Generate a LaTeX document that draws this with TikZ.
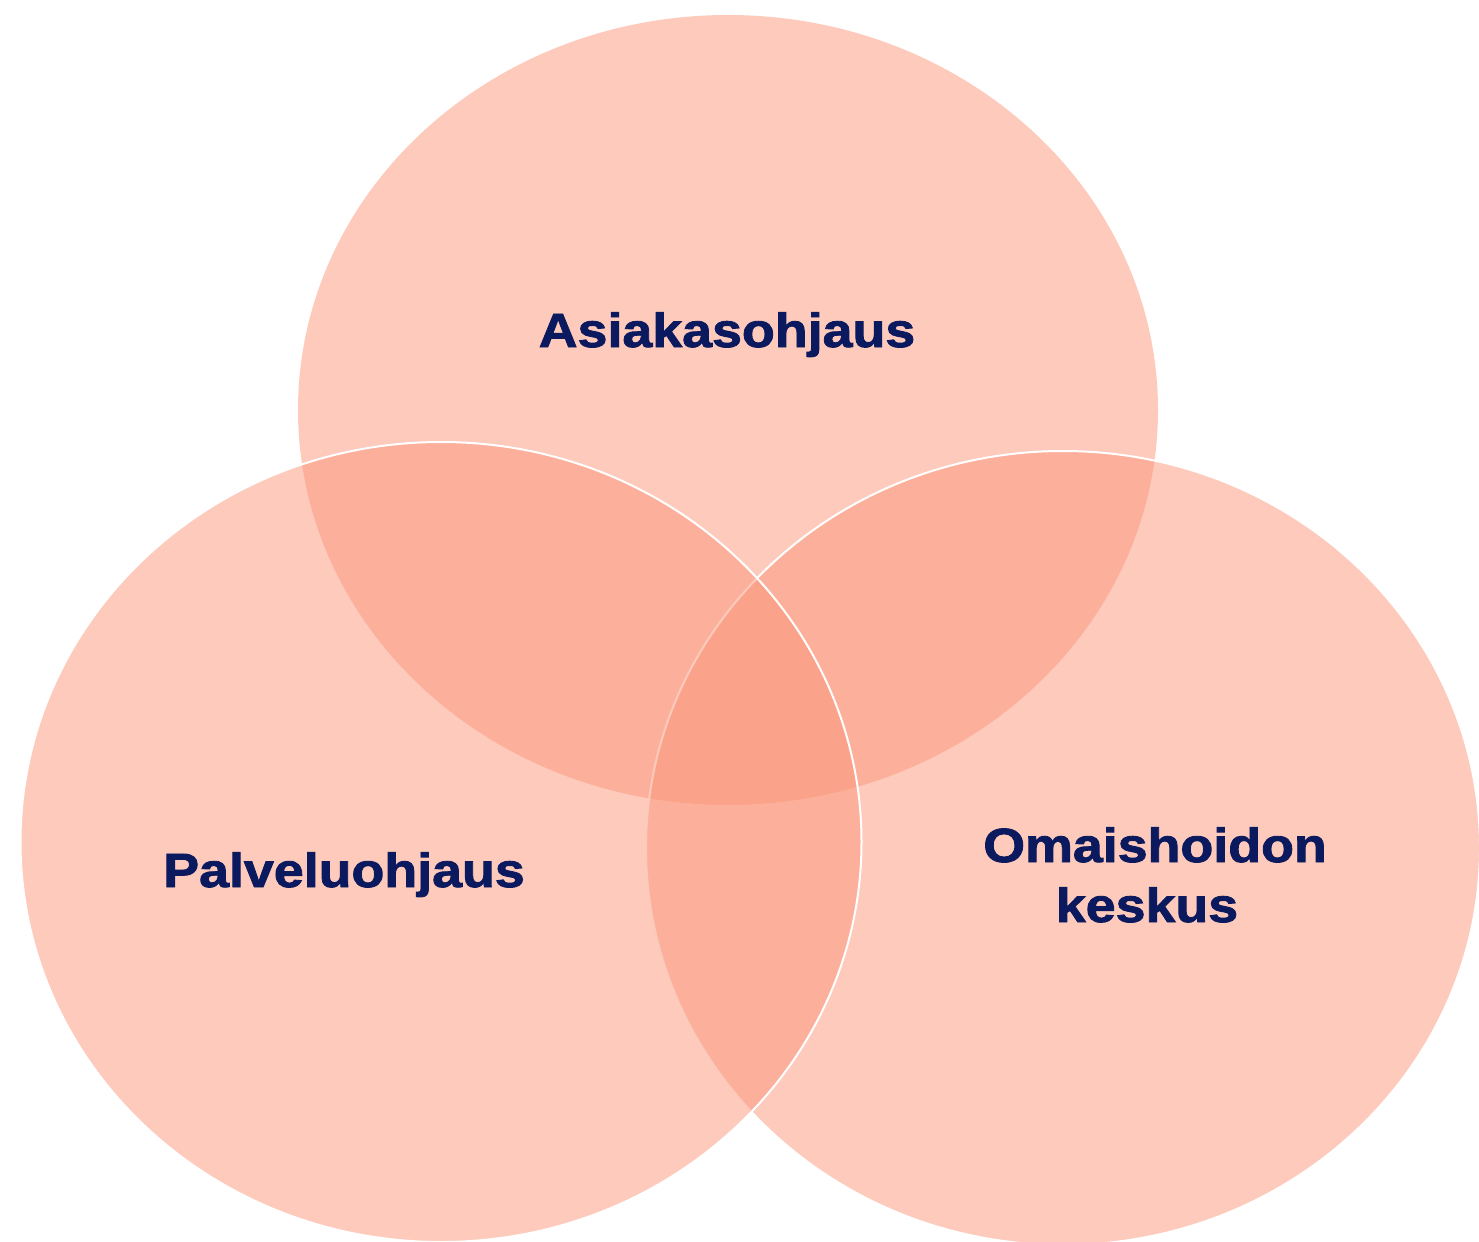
\documentclass[tikz,border=0pt]{standalone}
\usepackage{fontspec}
\usetikzlibrary{shapes.geometric}
\newfontfamily\vennfont[FakeStretch=1.12,FakeBold=1.8]{Liberation Sans}
\definecolor{vennfill}{RGB}{251,150,122}
\definecolor{venntext}{RGB}{11,25,94}
\begin{document}
\begin{tikzpicture}[x=1pt, y=-1pt,
  circ/.style={ellipse, inner sep=0pt, outer sep=0pt, fill=vennfill, fill opacity=0.5},
  rim/.style={circ, draw=white, draw opacity=1, line width=2pt},
  lbl/.style={font=\vennfont\bfseries\fontsize{48}{60}\selectfont, text=venntext, align=center, anchor=base}]
  \useasboundingbox (0,0) rectangle (1479,1241);
  \node[circ, minimum width=860pt, minimum height=790pt] (asiakas) at (728,410) {};
  \node[rim, minimum width=834pt, minimum height=794pt] (omais) at (1063,848) {};
  \node[rim, minimum width=841pt, minimum height=800pt] (palvelu) at (441,842) {};
  \node[lbl] (tasiakas) at (727,347) {Asiakasohjaus};
  \node[lbl] (tpalvelu) at (344,887) {Palveluohjaus};
  \node[lbl] (tomais) at (1155,922) {Omaishoidon\\keskus\hspace*{16pt}};
\end{tikzpicture}
\end{document}
